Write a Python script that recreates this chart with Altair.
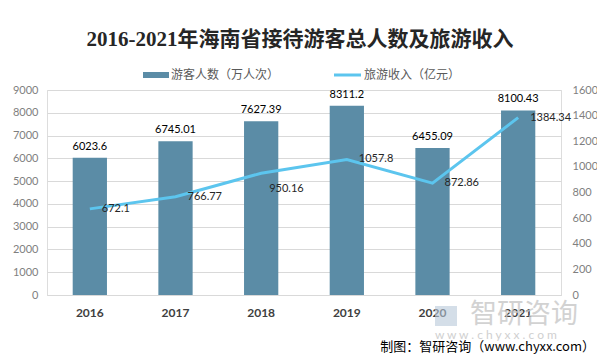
import altair as alt
import pandas as pd

years = ["2016", "2017", "2018", "2019", "2020", "2021"]
visitors = [6023.6, 6745.01, 7627.39, 8311.2, 6455.09, 8100.43]
revenue = [672.1, 766.77, 950.16, 1057.8, 872.86, 1384.34]
left_ticks = [0, 1000, 2000, 3000, 4000, 5000, 6000, 7000, 8000, 9000]
right_ticks = [0, 200, 400, 600, 800, 1000, 1200, 1400, 1600]

title_text = "2016-2021年海南省接待游客总人数及旅游收入"
legend_bar = "游客人数（万人次）"
legend_line = "旅游收入（亿元）"
source_text = "制图：智研咨询（www.chyxx.com）"

df = pd.DataFrame({"year": years, "visitors": visitors, "revenue": revenue})

W, H = 514, 205
BAR_COLOR = "#5B8CA6"
LINE_COLOR = "#5CC5EE"
NUM_FONT = "Lato"
CJK_FONT = "Noto Sans CJK SC"

base = alt.Chart(df)
x = alt.X("year:N", sort=years, title=None,
          scale=alt.Scale(paddingInner=0.6, paddingOuter=0.3),
          axis=alt.Axis(labelAngle=0, labelFontWeight="bold", labelFontSize=12,
                        labelColor="#404040", labelFont=NUM_FONT, ticks=False,
                        domainColor="#D9D9D9", labelPadding=12))

yl = alt.Y("visitors:Q", title=None,
           scale=alt.Scale(domain=[0, 9000], nice=False),
           axis=alt.Axis(values=left_ticks, format="d", domain=False, ticks=False,
                         labelColor="#7F7F7F", labelFontSize=11, labelFont=NUM_FONT,
                         gridColor="#D9D9D9", labelPadding=9, orient="left"))
bars = base.mark_bar(color=BAR_COLOR).encode(x=x, y=yl)
bar_text = base.mark_text(dy=-11, baseline="middle", fontSize=11, font=NUM_FONT,
                          color="#000000").encode(x=x, y=yl, text="visitors:N")
left_layer = alt.layer(bars, bar_text)

yr = alt.Y("revenue:Q", title=None,
           scale=alt.Scale(domain=[0, 1600], nice=False),
           axis=alt.Axis(values=right_ticks, format="d", domain=False, ticks=False, grid=False,
                         labelColor="#7F7F7F", labelFontSize=11, labelFont=NUM_FONT,
                         labelPadding=11, orient="right"))
line = base.mark_line(color=LINE_COLOR, strokeWidth=3, interpolate="linear").encode(x=x, y=yr)
line_text = base.transform_filter(alt.datum.year != "2018").mark_text(
    align="left", dx=12, baseline="middle", fontSize=11, font=NUM_FONT,
    color="#262626").encode(x=x, y=yr, text="revenue:N")
line_text2 = base.transform_filter(alt.datum.year == "2018").mark_text(
    align="left", dx=8, dy=16, baseline="middle", fontSize=11, font=NUM_FONT,
    color="#262626").encode(x=x, y=yr, text="revenue:N")
right_layer = alt.layer(line, line_text, line_text2)

deco_df = pd.DataFrame({"k": [0]})
deco = alt.Chart(deco_df)
title = deco.mark_text(fontSize=21, font="Liberation Serif, Noto Sans CJK SC", fontWeight="bold",
                       color="#262626", baseline="middle", align="center").encode(
    x=alt.value(W / 2 - 4), y=alt.value(-50), text=alt.value(title_text))
leg_rect = deco.mark_rect(color=BAR_COLOR).encode(
    x=alt.value(96), x2=alt.value(122), y=alt.value(-18), y2=alt.value(-12))
leg_t1 = deco.mark_text(align="left", baseline="middle", fontSize=12, font=CJK_FONT,
                        color="#595959").encode(x=alt.value(124), y=alt.value(-15),
                                                text=alt.value(legend_bar))
leg_line = deco.mark_rule(color=LINE_COLOR, strokeWidth=3).encode(
    x=alt.value(287), x2=alt.value(314), y=alt.value(-15))
leg_t2 = deco.mark_text(align="left", baseline="middle", fontSize=12, font=CJK_FONT,
                        color="#595959").encode(x=alt.value(317), y=alt.value(-15),
                                                text=alt.value(legend_line))
logo = deco.mark_rect(color="#B8C8D8", opacity=0.6).encode(
    x=alt.value(388), x2=alt.value(410), y=alt.value(216), y2=alt.value(236))
wm1 = deco.mark_text(align="left", baseline="middle", fontSize=27, font=CJK_FONT,
                     color="#C8C8C8", opacity=0.8).encode(
    x=alt.value(423), y=alt.value(225), text=alt.value("智研咨询"))
wm2 = deco.mark_text(align="left", baseline="middle", fontSize=12, font=NUM_FONT,
                     color="#D0D0D0").encode(
    x=alt.value(388), y=alt.value(245), text=alt.value("w w w . c h y x x . c o m"))
src = deco.mark_text(align="right", baseline="middle", fontSize=13, font=CJK_FONT,
                     color="#000000").encode(
    x=alt.value(548), y=alt.value(257), text=alt.value(source_text))

chart = alt.layer(left_layer, right_layer, title, leg_rect, leg_t1, leg_line, leg_t2,
                  logo, wm1, wm2, src).resolve_scale(y="independent").properties(
    width=W, height=H,
    autosize=alt.AutoSizeParams(type="none"),
    padding={"left": 39, "top": 82, "right": 36, "bottom": 66},
).configure_view(stroke=None).configure(background="white")

chart.save("out.html", embed_options={"renderer": "svg", "actions": False})
